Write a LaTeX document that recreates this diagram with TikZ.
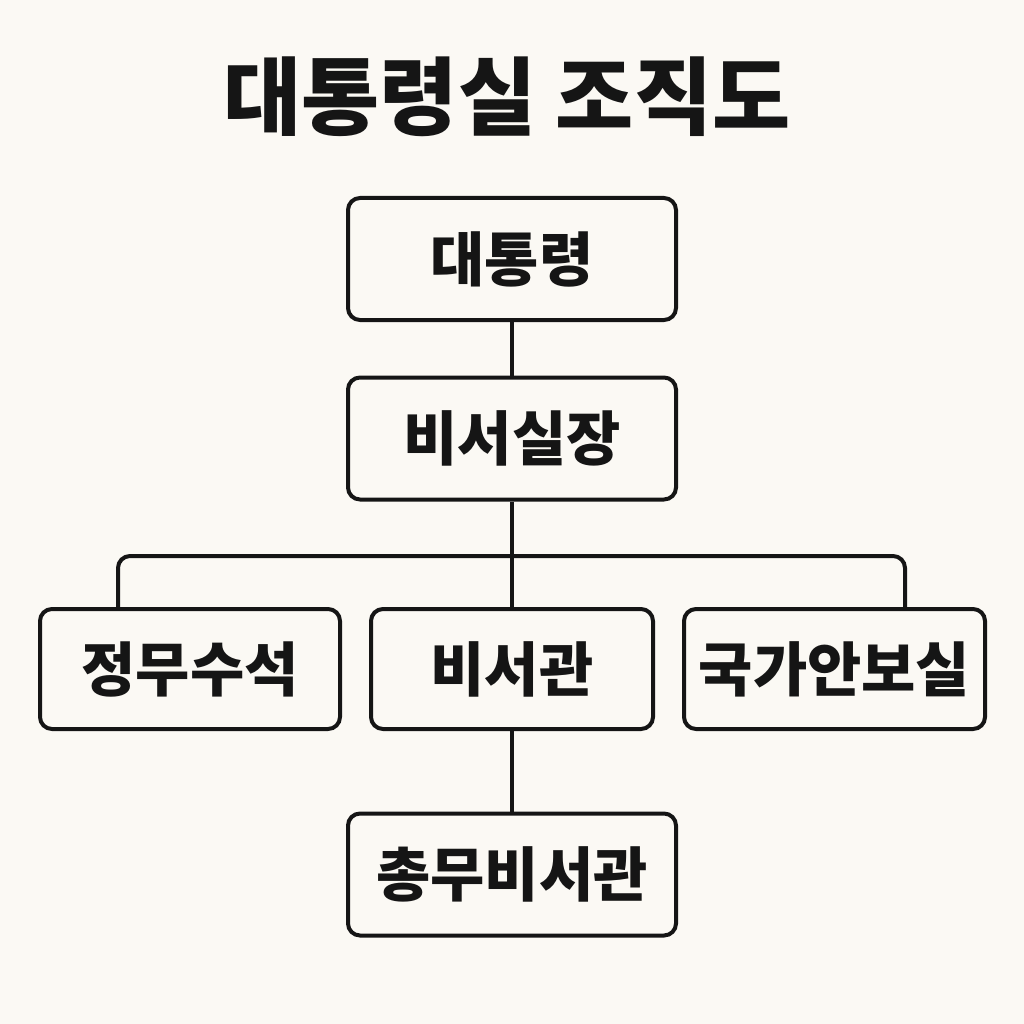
\documentclass[tikz,border=0pt]{standalone}
\usepackage{fontspec}
\setmainfont{Noto Sans CJK KR}
\definecolor{bgc}{HTML}{FBF9F4}
\definecolor{ink}{HTML}{151515}
\begin{document}
\begin{tikzpicture}[x=1pt,y=-1pt,
  box/.style={draw=ink,line width=4pt,rounded corners=12pt,fill=bgc,
    inner sep=0pt,text=ink,font=\bfseries\fontsize{59}{66}\selectfont},
  conn/.style={draw=ink,line width=4pt}]
\fill[bgc] (0,0) rectangle (1024,1024);
\useasboundingbox (0,0) rectangle (1024,1024);
\node[text=ink,font=\bfseries\fontsize{85}{96}\selectfont] (title) at (507,97) {대통령실 조직도};
\node[box,minimum width=328pt,minimum height=122pt] (pres) at (512,259) {대통령};
\node[box,minimum width=328pt,minimum height=122pt] (chief) at (512,438.5) {비서실장};
\node[box,minimum width=300pt,minimum height=120pt] (jeong) at (190,669) {정무수석};
\node[box,minimum width=282pt,minimum height=120pt] (biseo) at (512,669) {비서관};
\node[box,minimum width=301pt,minimum height=120pt] (guk) at (834.5,669) {국가안보실};
\node[box,minimum width=328pt,minimum height=122pt] (chong) at (512,874.5) {총무비서관};
\coordinate (bl) at (118,556);
\coordinate (br) at (905,556);
\draw[conn] (pres.south) -- (chief.north);
\draw[conn] (chief.south) -- (biseo.north);
\draw[conn,rounded corners=12pt] (jeong.north -| bl) -- (bl) -- (br) -- (guk.north -| br);
\draw[conn] (biseo.south) -- (chong.north);
\end{tikzpicture}
\end{document}
